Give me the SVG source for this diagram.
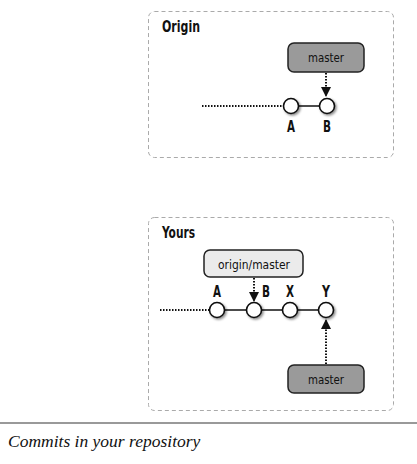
<svg xmlns="http://www.w3.org/2000/svg" width="417" height="464" viewBox="0 0 417 464">
<style>
.frame{fill:#fff;stroke:#aaa;stroke-width:1;stroke-dasharray:4 3}
.title{font-family:"DejaVu Sans Condensed","DejaVu Sans",sans-serif;font-stretch:condensed;font-weight:bold;font-size:16px;fill:#111}
.lbl{font-family:"DejaVu Sans Condensed","DejaVu Sans",sans-serif;font-stretch:condensed;font-weight:bold;font-size:16px;fill:#111;text-anchor:middle}
.ref{font-family:"DejaVu Sans Condensed","DejaVu Sans",sans-serif;font-stretch:condensed;font-size:13px;fill:#111;text-anchor:middle}
.dark{fill:#9a9a9a;stroke:#222;stroke-width:1.5}
.light{fill:#ebebeb;stroke:#222;stroke-width:1.5}
.commit{fill:#fff;stroke:#111;stroke-width:1.6}
.edge{stroke:#111;stroke-width:1.5;fill:none}
.dot{stroke:#111;stroke-width:2;stroke-dasharray:1.5 1.5;fill:none}
.caption{font-family:"Liberation Serif",serif;font-style:italic;font-size:17.5px;fill:#111}
</style>
<defs>
<marker id="ah" viewBox="0 0 10 10" refX="10" refY="5" markerWidth="10" markerHeight="10" markerUnits="userSpaceOnUse" orient="auto">
<path d="M0,0 L10,5 L0,10 Z" fill="#111"/>
</marker>
<filter id="sh" x="-50%" y="-50%" width="200%" height="200%">
<feDropShadow dx="1.5" dy="1.5" stdDeviation="1.2" flood-color="#000" flood-opacity="0.45"/>
</filter>
</defs>

<g id="origin-frame">
<rect class="frame" x="148.5" y="11.5" width="245" height="146" rx="6"/>
<text class="title" x="162" y="32" textLength="38" lengthAdjust="spacingAndGlyphs">Origin</text>
</g>
<g id="yours-frame">
<rect class="frame" x="148.5" y="217.5" width="245" height="193" rx="6"/>
<text class="title" x="162" y="238" textLength="33" lengthAdjust="spacingAndGlyphs">Yours</text>
</g>

<g id="connectors">
<line class="dot" x1="202" y1="106" x2="283" y2="106"/>
<line class="edge" x1="298.5" y1="106" x2="319.5" y2="106"/>
<line class="dot" x1="326" y1="73" x2="326" y2="97" marker-end="url(#ah)"/>
<line class="dot" x1="160" y1="310" x2="209" y2="310"/>
<line class="edge" x1="224.5" y1="310" x2="246.5" y2="310"/>
<line class="edge" x1="261.5" y1="310" x2="282.5" y2="310"/>
<line class="edge" x1="297.5" y1="310" x2="318.5" y2="310"/>
<line class="dot" x1="254" y1="278" x2="254" y2="302" marker-end="url(#ah)"/>
<line class="dot" x1="326" y1="364" x2="326" y2="319" marker-end="url(#ah)"/>
</g>

<g id="origin-master">
<rect class="dark" x="288" y="43" width="76" height="29" rx="6"/>
<text class="ref" x="326" y="62" textLength="36" lengthAdjust="spacingAndGlyphs">master</text>
</g>
<g id="origin-A">
<circle class="commit" cx="291" cy="106" r="7.5" filter="url(#sh)"/>
<text class="lbl" x="291" y="132" textLength="8" lengthAdjust="spacingAndGlyphs">A</text>
</g>
<g id="origin-B">
<circle class="commit" cx="327" cy="106" r="7.5" filter="url(#sh)"/>
<text class="lbl" x="327" y="132" textLength="8" lengthAdjust="spacingAndGlyphs">B</text>
</g>

<g id="yours-origin-master">
<rect class="light" x="204" y="250" width="99" height="27" rx="6"/>
<text class="ref" x="254" y="269" textLength="72" lengthAdjust="spacingAndGlyphs">origin/master</text>
</g>
<g id="yours-A">
<circle class="commit" cx="217" cy="310" r="7.5" filter="url(#sh)"/>
<text class="lbl" x="217" y="297" textLength="8" lengthAdjust="spacingAndGlyphs">A</text>
</g>
<g id="yours-B">
<circle class="commit" cx="254" cy="310" r="7.5" filter="url(#sh)"/>
<text class="lbl" x="266" y="297" textLength="8" lengthAdjust="spacingAndGlyphs">B</text>
</g>
<g id="yours-X">
<circle class="commit" cx="290" cy="310" r="7.5" filter="url(#sh)"/>
<text class="lbl" x="290" y="297" textLength="8" lengthAdjust="spacingAndGlyphs">X</text>
</g>
<g id="yours-Y">
<circle class="commit" cx="326" cy="310" r="7.5" filter="url(#sh)"/>
<text class="lbl" x="326" y="297" textLength="8" lengthAdjust="spacingAndGlyphs">Y</text>
</g>
<g id="yours-master">
<rect class="dark" x="288" y="365" width="76" height="28" rx="6"/>
<text class="ref" x="326" y="384" textLength="36" lengthAdjust="spacingAndGlyphs">master</text>
</g>

<g id="caption">
<line x1="0" y1="423" x2="417" y2="423" stroke="#777" stroke-width="1.5"/>
<text class="caption" x="8" y="447">Commits in your repository</text>
</g>
</svg>
